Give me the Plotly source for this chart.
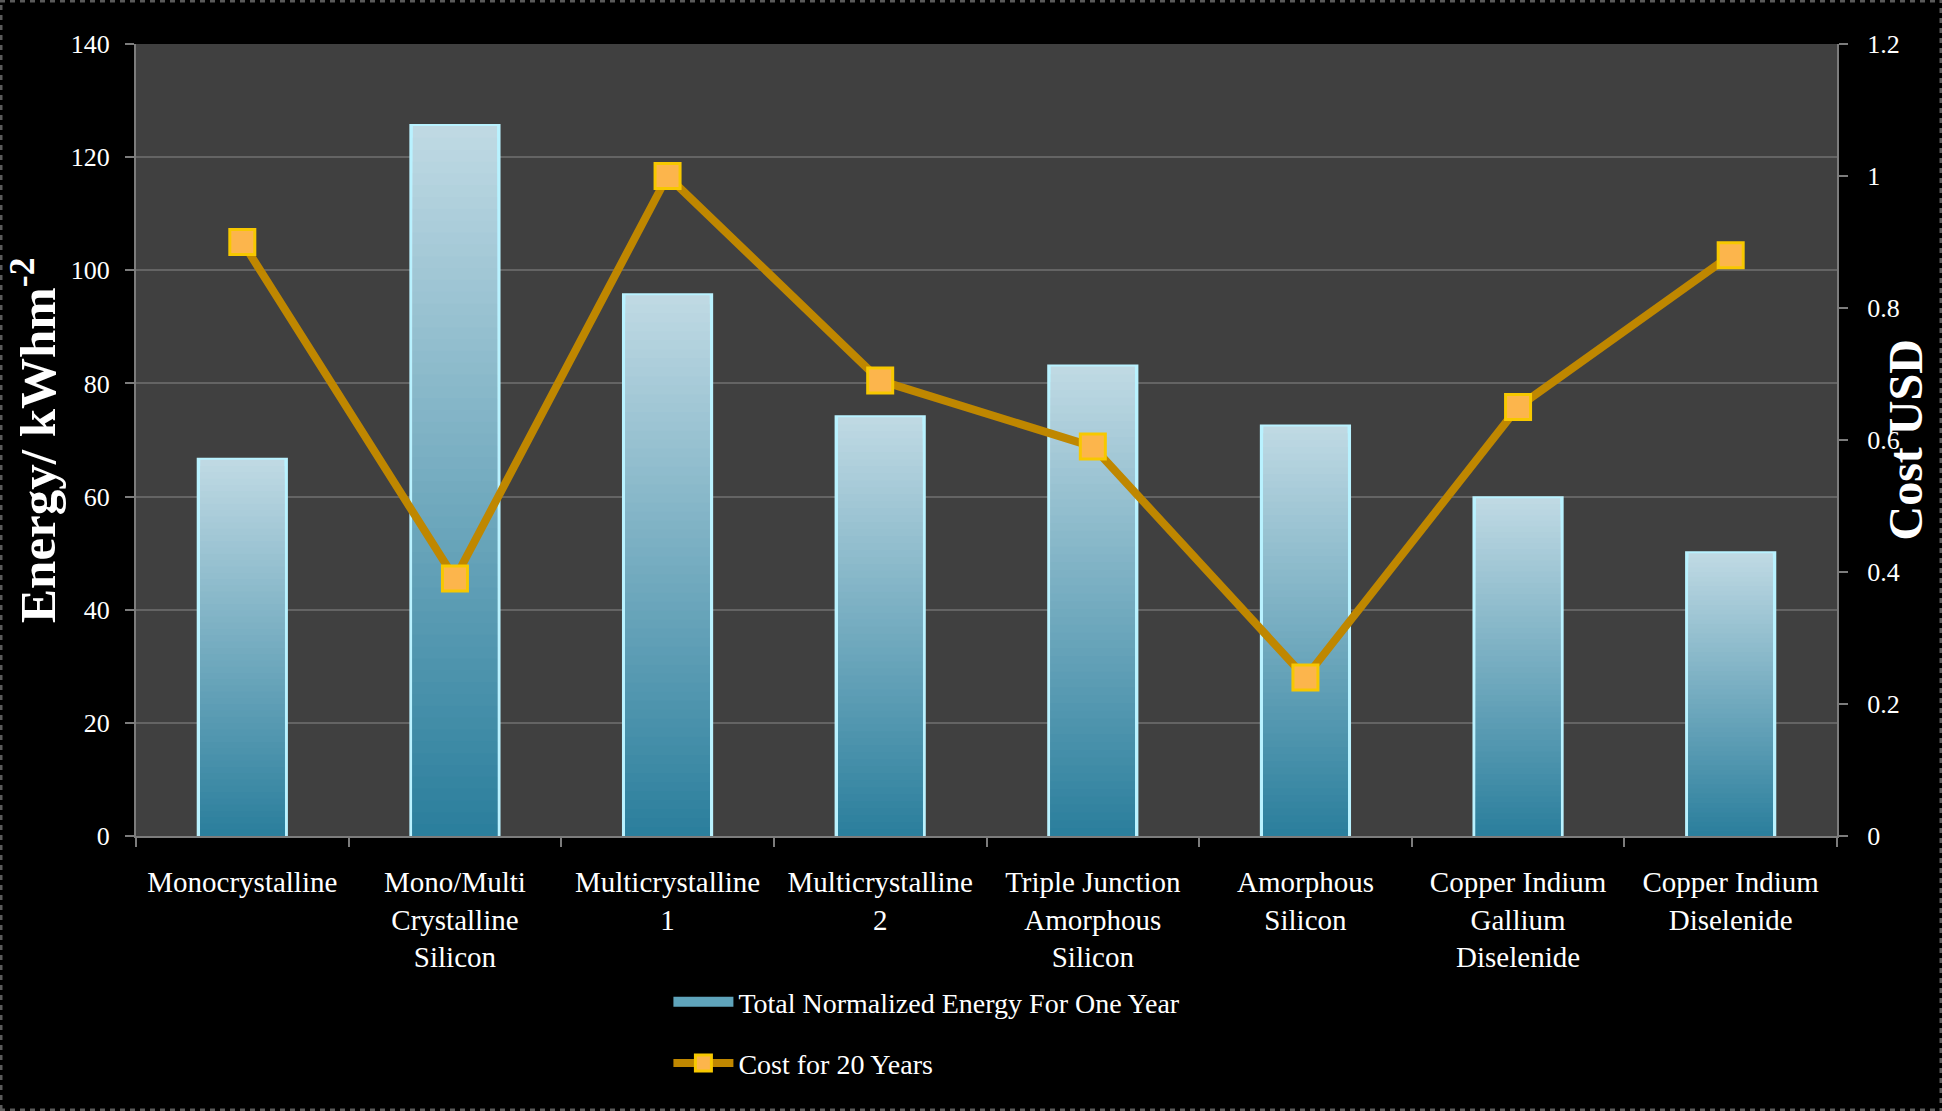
import plotly.graph_objects as go

# Photovoltaic technologies compared
categories = [
    "Monocrystalline",
    "Mono/Multi<br>Crystalline<br>Silicon",
    "Multicrystalline<br>1",
    "Multicrystalline<br>2",
    "Triple Junction<br>Amorphous<br>Silicon",
    "Amorphous<br>Silicon",
    "Copper Indium<br>Gallium<br>Diselenide",
    "Copper Indium<br>Diselenide",
]
# Total normalized energy for one year (kWh m^-2)
energy = [66.5, 125.5, 95.6, 74.0, 83.0, 72.4, 59.7, 50.0]
# Cost over 20 years (USD)
cost = [0.90, 0.39, 1.00, 0.69, 0.59, 0.24, 0.65, 0.88]

energy_ticks = [0, 20, 40, 60, 80, 100, 120, 140]
cost_ticks = [0, 0.2, 0.4, 0.6, 0.8, 1, 1.2]

FONT = "Liberation Serif"
GRID = "#646464"
AXIS = "#7c7c7c"
BAR_WIDTH = 0.41

W, H = 1942, 1111
M_L, M_R, M_T, M_B = 136, 105, 44, 275
PLOT_W = W - M_L - M_R
PLOT_H = H - M_T - M_B

fig = go.Figure()

# Base bar: full height with the bright rim
fig.add_trace(go.Bar(
    x=categories, y=energy, width=BAR_WIDTH,
    name="Total Normalized Energy For One Year",
    marker=dict(color="#bed8e2", line=dict(color="#b9f2ff", width=4)),
    showlegend=False, legendgroup="energy",
))

# Vertical gradient: nested bars, each shorter and darker than the last,
# so the fill runs from light at the top of a bar to teal at its foot
top_rgb = (192, 218, 228)
bottom_rgb = (42, 126, 156)
n_steps = 60
for k in range(n_steps):
    frac = (n_steps - k) / n_steps  # height fraction of this layer
    f = frac - 0.5 / n_steps
    rgb = tuple(round(b + (t - b) * f) for t, b in zip(top_rgb, bottom_rgb))
    fig.add_trace(go.Bar(
        x=categories,
        y=[v * frac for v in energy],
        width=BAR_WIDTH - 0.014,
        marker=dict(color="rgb(%d,%d,%d)" % rgb, line=dict(width=0)),
        showlegend=False, hoverinfo="skip",
    ))

# Legend key for the bar series, drawn as a wide swatch
fig.add_trace(go.Scatter(
    x=[None], y=[None], mode="lines",
    name="Total Normalized Energy For One Year",
    line=dict(color="#5fa4bb", width=18),
    legendgroup="energy", hoverinfo="skip",
))

fig.add_trace(go.Scatter(
    x=categories, y=cost, yaxis="y2",
    mode="lines+markers",
    name="Cost for 20 Years",
    line=dict(color="#bf8700", width=8),
    marker=dict(symbol="square", size=25, color="#fcb54c",
                line=dict(color="#f7c800", width=3)),
    legendgroup="cost",
))

fig.update_layout(
    width=W, height=H,
    margin=dict(l=M_L, r=M_R, t=M_T, b=M_B),
    paper_bgcolor="#000000",
    plot_bgcolor="#404040",
    barmode="overlay",
    font=dict(family=FONT, color="#ffffff", size=25),
    showlegend=True,
    legend=dict(
        x=0.313, y=-0.178, xanchor="left", yanchor="top",
        font=dict(family=FONT, size=28, color="#ffffff"),
        bgcolor="rgba(0,0,0,0)",
        traceorder="grouped", tracegroupgap=22,
        itemwidth=60,
    ),
    xaxis=dict(
        type="category",
        tickfont=dict(family=FONT, size=29, color="#ffffff"),
        showgrid=False,
        showline=True, linecolor=AXIS, linewidth=2,
        ticks="outside", tickson="boundaries", ticklen=9,
        tickcolor=AXIS, tickwidth=2,
        ticklabelstandoff=19,
    ),
    yaxis=dict(
        range=[0, 140], tickvals=energy_ticks,
        tickfont=dict(family=FONT, size=26, color="#ffffff"),
        showgrid=True, gridcolor=GRID, gridwidth=2,
        showline=True, linecolor=AXIS, linewidth=2,
        ticks="outside", ticklen=9, tickcolor=AXIS, tickwidth=2,
        ticklabelstandoff=10,
        zeroline=False,
    ),
    yaxis2=dict(
        range=[0, 1.2], tickvals=cost_ticks, overlaying="y", side="right",
        tickfont=dict(family=FONT, size=26, color="#ffffff"),
        showgrid=False,
        showline=True, linecolor=AXIS, linewidth=2,
        ticks="outside", ticklen=9, tickcolor=AXIS, tickwidth=2,
        ticklabelstandoff=14,
        zeroline=False,
    ),
    annotations=[
        dict(text="<b>Energy/ kWhm<sup>-2</sup></b>", textangle=-90,
             xref="paper", yref="paper", x=-0.060, y=0.5,
             xanchor="center", yanchor="middle", showarrow=False,
             font=dict(family=FONT, size=51, color="#ffffff")),
        dict(text="<b>Cost USD</b>", textangle=-90,
             xref="paper", yref="paper", x=1.0397, y=0.5,
             xanchor="center", yanchor="middle", showarrow=False,
             font=dict(family=FONT, size=48, color="#ffffff")),
    ],
    shapes=[
        # dotted frame round the whole figure
        dict(type="rect", xref="paper", yref="paper",
             x0=-M_L / PLOT_W, x1=1 + M_R / PLOT_W,
             y0=-M_B / PLOT_H, y1=1 + M_T / PLOT_H,
             line=dict(color="#5a5a5a", width=5, dash="dot"),
             layer="above"),
    ],
)

fig.write_html("out.html")
